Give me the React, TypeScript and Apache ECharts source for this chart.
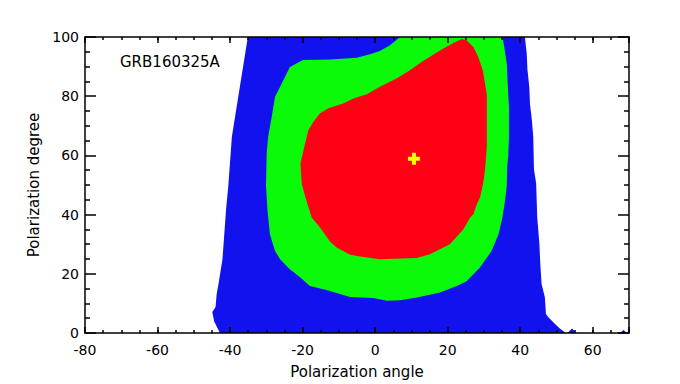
import React, { useEffect, useRef } from "react";
import * as echarts from "echarts";

// Confidence regions (polarization angle [deg], polarization degree [%])
const blueRegion: [number, number][] = [
  [-42.8, 0], [-44.4, 4.0], [-44.9, 7.1], [-44.0, 8.8], [-43.7, 13.1], [-43.2, 16.5],
  [-42.1, 24.9], [-41.6, 33.3], [-41.1, 41.8], [-40.5, 49.5], [-39.5, 66.3], [-37.3, 83.2],
  [-35.1, 100], [41.3, 100], [41.8, 94.3], [42.0, 88.9], [42.5, 83.2], [42.7, 77.4],
  [43.2, 72.1], [43.6, 66.3], [43.8, 55.2], [44.4, 50.5], [44.7, 39.0], [45.3, 30.0],
  [45.5, 24.2], [45.9, 16.5], [46.8, 12.1], [47.1, 6.4], [47.7, 5.4], [49.6, 3.0],
  [51.0, 1.4], [52.6, 0], [53.0, 0], [54.3, 1.5], [55.6, 0], [67.5, 0], [68.5, 1.0], [69.4, 0],
];

const greenRegion: [number, number][] = [
  [6.9, 100], [4.1, 97.2], [1.3, 95.3], [-1.4, 94.2], [-5.1, 93.0], [-12.4, 92.4],
  [-19.9, 92.2], [-23.5, 89.9], [-26.2, 83.2], [-27.6, 79.8], [-28.5, 73.1], [-29.5, 66.3],
  [-29.9, 60.7], [-30.1, 49.8], [-29.7, 41.8], [-29.0, 33.3], [-27.6, 27.7], [-26.2, 24.9],
  [-23.5, 21.5], [-20.7, 18.8], [-18.0, 15.9], [-13.4, 14.5], [-6.9, 12.2], [-0.5, 11.8],
  [3.2, 10.9], [6.9, 11.1], [11.5, 12.0], [17.9, 13.7], [22.5, 15.9], [25.2, 17.5],
  [28.9, 22.1], [32.1, 27.7], [34.0, 33.3], [35.1, 39.0], [35.8, 44.5], [36.3, 49.8],
  [36.4, 56.2], [36.7, 59.6], [36.9, 66.3], [36.9, 76.4], [36.6, 83.2], [36.3, 91.0],
  [35.6, 96.6], [35.1, 100],
];

const redRegion: [number, number][] = [
  [23.9, 99.3], [25.2, 98.9], [27.1, 96.6], [28.4, 93.3], [29.7, 88.8], [30.3, 84.3],
  [30.8, 80.4], [30.8, 63.0], [30.3, 55.1], [29.8, 50.6], [28.9, 45.7], [28.0, 43.4],
  [27.1, 40.1], [26.2, 39.0], [24.3, 35.0], [20.6, 30.0], [15.1, 26.6], [11.5, 25.3],
  [1.3, 24.9], [-3.3, 25.7], [-6.9, 26.4], [-10.6, 28.9], [-12.4, 30.8], [-15.2, 35.6],
  [-17.5, 39.0], [-18.9, 44.5], [-20.2, 50.2], [-20.6, 57.3], [-19.3, 64.1], [-18.4, 68.6],
  [-17.0, 71.4], [-15.2, 74.2], [-12.9, 75.9], [-8.8, 77.5], [-6.0, 79.2], [-2.3, 80.7],
  [1.3, 83.2], [5.9, 86.0], [9.6, 88.8], [12.4, 91.2], [15.1, 93.3], [18.8, 96.1], [21.6, 98.0],
];

const bestFit: [number, number][] = [[10.7, 58.9]];

const xMin = -80;
const xMax = 70;
const yMin = 0;
const yMax = 100;
const xMajor = 20;
const xMinor = 5;
const yMajor = 20;

const FONT = "DejaVu Sans";

function regionSeries(name: string, points: [number, number][], color: string) {
  return {
    type: "custom",
    name,
    xAxisIndex: 0,
    yAxisIndex: 0,
    data: points,
    encode: { x: 0, y: 1 },
    silent: true,
    renderItem: (params: any, api: any) => {
      if (params.dataIndex !== 0) return null;
      const pts = points.map((p) => api.coord(p));
      return {
        type: "polygon",
        shape: { points: pts },
        style: { fill: color, stroke: null },
      };
    },
  };
}

export default function App() {
  const ref = useRef<HTMLDivElement>(null);
  useEffect(() => {
    if (!ref.current) return;
    const chart = echarts.init(ref.current, null, { renderer: "svg" });
    const lineStyle = { color: "#000", width: 1.5 };
    const axisLine = { show: true, onZero: false, lineStyle };
    const baseX = {
      type: "value",
      min: xMin,
      max: xMax,
      splitLine: { show: false },
      z: 10,
    };
    const baseY = {
      type: "value",
      min: yMin,
      max: yMax,
      interval: yMajor,
      splitLine: { show: false },
      z: 10,
    };
    chart.setOption({
      animation: false,
      backgroundColor: "#fff",
      title: {
        text: "GRB160325A",
        left: 120,
        top: 54,
        padding: 0,
        textStyle: { fontSize: 15, fontWeight: "normal", color: "#000", fontFamily: FONT },
      },
      grid: { left: 85, right: 51, top: 37, bottom: 50, containLabel: false },
      xAxis: [
        {
          ...baseX,
          position: "bottom",
          interval: xMinor,
          name: "Polarization angle",
          nameLocation: "middle",
          nameGap: 31,
          nameTextStyle: { fontSize: 15, color: "#000", fontFamily: FONT },
          axisLine,
          axisTick: { show: true, inside: true, length: 3, lineStyle },
          axisLabel: {
            show: true,
            margin: 10,
            fontSize: 14,
            color: "#000",
            fontFamily: FONT,
            formatter: (v: number) => (v % xMajor === 0 && v <= 60 ? String(v) : ""),
          },
        },
        {
          ...baseX,
          position: "bottom",
          interval: xMajor,
          axisLine: { show: false, onZero: false },
          axisTick: { show: true, inside: true, length: 6, lineStyle },
          axisLabel: { show: false },
        },
        {
          ...baseX,
          position: "top",
          interval: xMinor,
          axisLine,
          axisTick: { show: true, inside: true, length: 3, lineStyle },
          axisLabel: { show: false },
        },
        {
          ...baseX,
          position: "top",
          interval: xMajor,
          axisLine: { show: false, onZero: false },
          axisTick: { show: true, inside: true, length: 6, lineStyle },
          axisLabel: { show: false },
        },
      ],
      yAxis: [
        {
          ...baseY,
          position: "left",
          name: "Polarization degree",
          nameLocation: "middle",
          nameGap: 43,
          nameTextStyle: { fontSize: 15, color: "#000", fontFamily: FONT },
          axisLine,
          axisTick: { show: true, inside: true, length: 11, lineStyle },
          minorTick: { show: true, splitNumber: 4, length: 5, lineStyle },
          axisLabel: { show: true, margin: 6, fontSize: 14, color: "#000", fontFamily: FONT },
        },
        {
          ...baseY,
          position: "right",
          axisLine,
          axisTick: { show: true, inside: true, length: 11, lineStyle },
          minorTick: { show: true, splitNumber: 4, length: 5, lineStyle },
          axisLabel: { show: false },
        },
      ],
      series: [
        regionSeries("99%", blueRegion, "#1212EE"),
        regionSeries("95%", greenRegion, "#0AFA0A"),
        regionSeries("68%", redRegion, "#FF0015"),
        {
          type: "scatter",
          name: "best fit",
          xAxisIndex: 0,
          yAxisIndex: 0,
          data: bestFit,
          symbol: "path://M4,0H8V4H12V8H8V12H4V8H0V4H4Z",
          symbolSize: 12,
          itemStyle: { color: "#FFFF00", opacity: 1 },
          z: 5,
          silent: true,
        },
      ],
    });
    return () => chart.dispose();
  }, []);
  return (
    <div
      ref={ref}
      style={{ position: "fixed", left: 0, top: 0, width: 680, height: 384, background: "#fff" }}
    />
  );
}
